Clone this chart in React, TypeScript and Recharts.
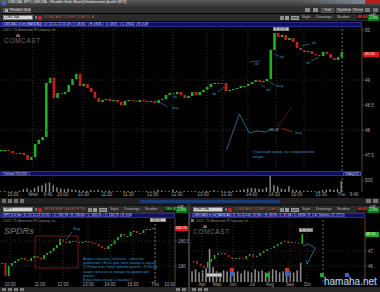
import React from 'react';
import {
  ComposedChart,
  Bar,
  XAxis,
  YAxis,
  ReferenceLine,
  ReferenceDot,
  ReferenceArea,
} from 'recharts';

// ---- main panel: CMCSA 2 d 1m, closes read off the picture ----
const mainClose = [
  47.6, 47.6, 47.58, 47.54, 47.52, 47.54, 47.5, 47.4, 47.46, 47.72,
  47.8, 47.86, 48.94, 49.04, 48.64, 48.74, 48.72, 48.76, 48.9, 49.02,
  49.12, 48.88, 48.92, 48.84, 48.76, 48.64, 48.56, 48.6, 48.62, 48.58,
  48.6, 48.56, 48.5, 48.58, 48.6, 48.58, 48.56, 48.6, 48.58, 48.56,
  48.58, 48.54, 48.6, 48.62, 48.7, 48.74, 48.72, 48.76, 48.7, 48.64,
  48.68, 48.76, 48.7, 48.76, 48.8, 48.86, 48.92, 48.94, 48.92, 48.94,
  48.78, 48.8, 48.82, 48.84, 48.88, 48.88, 48.92, 48.96, 49.0, 48.96,
  48.98, 49.02, 49.6, 49.94, 49.86, 49.9, 49.8, 49.84, 49.76, 49.64,
  49.6, 49.56, 49.58, 49.52, 49.5, 49.48, 49.56, 49.52, 49.44, 49.4,
  49.46, 49.56,
];
// volume, thousands
const mainVolume = [
  30, 40, 20, 30, 25, 60, 120, 150, 80,
  180, 250, 300, 380,
  420, 300, 200, 150,
  120, 150, 100, 90,
  70, 60, 50, 80, 60, 100, 50, 40, 60, 30,
  40, 30, 50, 40, 30, 40, 30, 20, 40, 30,
  40, 100, 60, 30, 40, 110, 50, 30, 40, 30,
  30, 40, 20, 30, 50, 40, 80, 30, 40, 30,
  40, 50, 60, 80, 120, 150, 180, 160, 140, 120,
  200, 700, 300, 250, 150,
  120, 250, 100, 80, 60,
  50, 60, 40, 30, 50, 80, 100, 120, 90, 130, 480,
];
const mainTimeTicks = [3.2, 8.5, 12.5, 16.5, 22, 28.3, 34, 40.5, 47, 54, 60.3, 67, 73, 79, 85.6, 91, 94.4];
const mainTimeLabels = ['15:00', 'Wed', '9:40', '10:00', '10:30', '11:00', '11:30', '12:00', '12:30', '13:00', '13:30', '14:00', '14:30', '15:00', '15:30', 'Thu', '9:40'];
const mainPriceTicks = [47.5, 48, 48.5, 49, 50];
const mainGridX = [8.4, 14, 22, 30, 38, 46, 55, 59.2, 66, 73.6, 81];

// ---- bottom left: SPY 5 D 5m ----
const spyClose = [
  180.06, 179.8, 180.0, 180.06, 180.1, 180.14, 180.16, 180.12, 180.1, 180.16,
  180.2, 180.16, 180.14, 180.22, 180.26, 180.3, 180.36, 180.42, 180.54, 180.48,
  180.46, 180.5, 180.5, 180.48, 180.46, 180.48, 180.5, 180.48, 180.46, 180.44,
  180.4, 180.36, 180.34, 180.4, 180.44, 180.52, 180.58, 180.64, 180.6, 180.6,
  180.68, 180.7, 180.66, 180.66, 180.72, 180.74, 180.74, 180.76,
];
const spyTimeTicks = [2.5, 11.8, 19, 26.8, 33.6, 40.8, 47.7, 52.3];
const spyTimeLabels = ['10:00', '11:00', '12:00', '13:00', '14:00', '15:00', 'Thu', '10:00'];
const spyPriceTicks = [180, 180.5];

// ---- bottom right: CMCSA 6 m 1d ----
const cmDailyClose = [
  46.33, 46.13, 46.0, 45.87, 46.27, 46.47, 46.73, 46.87, 46.87, 46.73,
  46.6, 46.47, 46.53, 46.53, 46.47, 46.67, 46.8, 46.6, 46.67, 46.87,
  47.0, 47.13, 47.2, 47.33, 47.47, 47.6, 47.67, 47.53, 47.6, 47.53,
  47.47, 48.13,
];
const cmDailyVolume = [
  10, 12, 9, 11, 13, 31, 14, 10, 9, 11, 10, 12, 9, 10, 8, 11,
  10, 9, 12, 10, 11, 9, 10, 12, 11, 9, 10, 12, 10, 9, 11, 18,
];
const cmTimeTicks = [2.6, 6.9, 11.4, 16.9, 22, 27.7, 32.6];
const cmTimeLabels = ['Apr', 'May', 'Jun', 'Jul', 'Aug', 'Sep', 'Oct'];
const cmPriceTicks = [46, 47];

const FONT = '"Liberation Sans", Arial, sans-serif';
const UP = '#19b419';
const DOWN = '#c81e1e';
const NOTE = '#2d8fc4';
const AXIS_TXT = '#a8a8a8';
const AXIS_LINE = '#5a4628';

function toCandles(close: number[], volume?: number[]) {
  return close.map((c, i) => {
    const o = i === 0 ? c : close[i - 1];
    return { i, body: [Math.min(o, c), Math.max(o, c)], up: c >= o, vol: volume ? volume[i] : 0 };
  });
}

const mainData = toCandles(mainClose, mainVolume);
const spyData = toCandles(spyClose);
const cmData = toCandles(cmDailyClose, cmDailyVolume);

function Candle(props: any) {
  const { x, y, width, height, payload } = props;
  const top = height < 0 ? y + height : y;
  const h = Math.max(1, Math.abs(height));
  return <rect x={x} y={top} width={width} height={h} fill={payload.up ? UP : DOWN} />;
}

function VolBar(props: any) {
  const { x, y, width, height } = props;
  return <rect x={x} y={y} width={width} height={Math.max(0, height)} fill="#8c8c8c" />;
}

const tickStyle = { fill: AXIS_TXT, fontSize: 4.5, fontFamily: FONT };

function Txt({ x, y, s = 4.5, c = '#c8c8c8', bold, children, style }: any) {
  return (
    <div
      style={{
        position: 'absolute',
        left: x,
        top: y,
        fontSize: s,
        lineHeight: 1,
        color: c,
        whiteSpace: 'nowrap',
        fontWeight: bold ? 700 : 400,
        fontFamily: FONT,
        ...style,
      }}
    >
      {children}
    </div>
  );
}

function Box({ x, y, w, h, bg, border, style, children }: any) {
  return (
    <div
      style={{
        position: 'absolute',
        left: x,
        top: y,
        width: w,
        height: h,
        background: bg,
        border: border ? `1px solid ${border}` : undefined,
        boxSizing: 'border-box',
        ...style,
      }}
    >
      {children}
    </div>
  );
}

// symbol toolbar row (input, description, style/drawings/studies, price)
function Toolbar({ x, y, symbol, desc, price, priceColor, w }: any) {
  const r = x + w;
  return (
    <>
      <Box x={x} y={y} w={w} h={7} bg="#2a2a2a" />
      <Box x={x + 3} y={y + 1} w={30} h={5} bg="#d4d4d4" border="#777">
        <Txt x={1} y={0.4} s={3.8} c="#222">{symbol}</Txt>
      </Box>
      <Box x={x + 35} y={y + 2} w={2} h={3} bg="#5a7ab0" />
      <Box x={x + 38} y={y + 1.5} w={4} h={4} bg="#c02020" />
      <Txt x={x + 44} y={y + 1.8} s={3.8} c="#d8583a">{desc}</Txt>
      <Box x={r - 100} y={y + 1.5} w={4} h={4} bg="#8a8a8a" />
      <Box x={r - 95} y={y + 1.5} w={4} h={4} bg="#9a9a9a" />
      <Box x={r - 89} y={y + 1.5} w={8} h={4} bg="#6c6c6c" border="#999" />
      <Txt x={r - 78} y={y + 1.8} s={3.8} c="#bbb">Style</Txt>
      <Txt x={r - 64} y={y + 1.8} s={3.8} c="#bbb">Drawings</Txt>
      <Txt x={r - 43} y={y + 1.8} s={3.8} c="#bbb">Studies</Txt>
      <Box x={r - 23} y={y + 1} w={10} h={5} bg="#151515">
        <Txt x={0.5} y={0.6} s={3.8} c={priceColor} bold>{price}</Txt>
      </Box>
      <Box x={r - 12} y={y + 0.5} w={11} h={6} bg="#0d7a1a">
        <Txt x={1} y={0.3} s={2.6} c="#e8ffe8">+0.37</Txt>
        <Txt x={1} y={3} s={2.6} c="#e8ffe8">+0.76%</Txt>
      </Box>
    </>
  );
}

function InfoBar({ x, y, w, cells }: any) {
  let cx = x + 2;
  return (
    <>
      <Box x={x} y={y} w={w} h={5} bg="#0e0e62" border="#2c2c8a" />
      {cells.map((c: any, k: number) => {
        const left = cx;
        cx += c.w + 1;
        return (
          <Box key={k} x={left} y={y + 0.5} w={c.w} h={4} border="#4040a8" style={{ background: k === 0 ? '#16168a' : 'transparent' }}>
            <Txt x={0.8} y={0.3} s={3.2} c="#d0dcff">{c.t}</Txt>
          </Box>
        );
      })}
    </>
  );
}

export default function App() {
  const mainFmt = (v: number) => mainTimeLabels[mainTimeTicks.indexOf(v)] ?? '';
  const spyFmt = (v: number) => spyTimeLabels[spyTimeTicks.indexOf(v)] ?? '';
  const cmFmt = (v: number) => cmTimeLabels[cmTimeTicks.indexOf(v)] ?? '';

  const noteLabel = (t: string, c = NOTE) => ({ value: t, fill: c, fontSize: 4, fontFamily: FONT, position: 'center' as const });

  return (
    <div style={{ position: 'absolute', left: 0, top: 0, width: 380, height: 292, background: '#000', overflow: 'hidden', fontFamily: FONT }}>
      {/* title bar */}
      <Box x={0} y={0} w={380} h={7} style={{ background: 'linear-gradient(#5c5c5c, #343434)' }} />
      <Box x={300} y={0} w={65} h={4} style={{ background: 'linear-gradient(90deg, rgba(120,140,160,0), rgba(150,170,190,0.6))' }} />
      <Box x={366} y={0} w={14} h={4} bg="#b82020" />
      <Box x={2} y={1} w={4} h={4} bg="#3b6ac0" />
      <Txt x={8} y={1.3} s={3.8} c="#e8e8e8">CMCSA, SPY, CMCSA - Flexible Grid, Main@thinkorswim [build 1872]</Txt>

      {/* grid button row */}
      <Box x={0} y={7} w={380} h={6} bg="#313131" />
      <Box x={3} y={7.5} w={28} h={5} bg="#454545" border="#5c5c5c" />
      <Box x={5} y={8.5} w={3} h={3} bg="#8ab0d8" />
      <Txt x={10} y={8.6} s={3.6} c="#ddd">Flexible Grid</Txt>
      <Box x={305} y={8} w={5} h={4} bg="#888" />
      <Box x={313} y={8} w={5} h={4} bg="#888" />
      <Box x={321} y={7.5} w={13} h={5} bg="#454545" border="#5c5c5c" />
      <Txt x={324} y={8.6} s={3.6} c="#ddd">Grid</Txt>
      <Box x={336} y={7.5} w={15} h={5} bg="#454545" border="#5c5c5c" />
      <Txt x={337.5} y={8.6} s={3.6} c="#ddd">Symbols</Txt>
      <Box x={352} y={7.5} w={11} h={5} bg="#454545" border="#5c5c5c" />
      <Txt x={353.5} y={8.6} s={3.6} c="#ddd">Reset</Txt>
      <Box x={365} y={8} w={5} h={4} bg="#777" />
      <Box x={373} y={8} w={5} h={4} bg="#777" />

      {/* main window chrome */}
      <Toolbar x={0} y={14} w={380} symbol="CMCSA" desc="COMCAST CORP COM CL A" price="48.82" priceColor="#ff3030" />
      <InfoBar
        x={0}
        y={21.5}
        w={362}
        cells={[
          { w: 40, t: 'CMCSA 2 d 1m [NASDAQ]' },
          { w: 27, t: 'D: 10-11-13 15:59' },
          { w: 16, t: 'O: 48.82' },
          { w: 16, t: 'H: 48.85' },
          { w: 14, t: 'L: 48.8' },
          { w: 15, t: 'C: 48.82' },
          { w: 12, t: 'R: 0.09' },
        ]}
      />

      {/* main price chart */}
      <div style={{ position: 'absolute', left: 0, top: 27 }}>
        <ComposedChart width={380} height={144} data={mainData} margin={{ top: 0, right: 0, bottom: 0, left: 0 }}>
          <XAxis type="number" dataKey="i" domain={[-0.27, 96.5]} allowDataOverflow hide />
          <YAxis
            orientation="right"
            width={18}
            domain={[47.18, 50.06]}
            allowDataOverflow
            ticks={mainPriceTicks}
            tick={tickStyle}
            tickSize={2}
            tickMargin={1}
            axisLine={{ stroke: AXIS_LINE }}
            tickLine={{ stroke: AXIS_LINE }}
          />
          {[48, 49, 50].map((p) => (
            <ReferenceLine key={p} y={p} stroke="#2e2e2e" strokeDasharray="1 2" />
          ))}
          {mainGridX.map((g) => (
            <ReferenceLine key={g} x={g} stroke="#2e2e2e" strokeDasharray="1 2" />
          ))}
          <ReferenceLine x={91.2} stroke="#6a6a6a" strokeDasharray="2 2" />
          <Bar dataKey="body" barSize={2.6} shape={Candle} isAnimationActive={false} />

          {/* blue trade notes */}
          <ReferenceLine segment={[{ x: 42.4, y: 48.56 }, { x: 44.5, y: 48.46 }]} stroke={NOTE} strokeWidth={0.6} />
          <ReferenceDot x={46.6} y={48.44} r={0} label={noteLabel('buy')} />
          <ReferenceDot x={46.4} y={48.66} r={0} label={noteLabel('sb')} />
          <ReferenceLine segment={[{ x: 57.9, y: 48.76 }, { x: 59.7, y: 48.86 }]} stroke={NOTE} strokeWidth={0.6} />
          <ReferenceDot x={57} y={48.72} r={0} label={noteLabel('sb')} />
          <ReferenceLine segment={[{ x: 66.4, y: 49.36 }, { x: 69.4, y: 49.38 }]} stroke={NOTE} strokeWidth={0.6} />
          <ReferenceDot x={68.3} y={49.32} r={0} label={noteLabel('sb')} />
          <ReferenceLine segment={[{ x: 69.1, y: 48.94 }, { x: 70.7, y: 48.84 }]} stroke={NOTE} strokeWidth={0.6} />
          <ReferenceDot x={71.4} y={48.8} r={0} label={noteLabel('sb')} />
          <ReferenceLine segment={[{ x: 71.7, y: 48.96 }, { x: 73.3, y: 48.9 }]} stroke={NOTE} strokeWidth={0.6} />
          <ReferenceDot x={74.6} y={48.88} r={0} label={noteLabel('buy')} />
          <ReferenceLine segment={[{ x: 73, y: 49.52 }, { x: 74.3, y: 49.48 }]} stroke={NOTE} strokeWidth={0.6} />
          <ReferenceDot x={75} y={49.46} r={0} label={noteLabel('sb')} />
          <ReferenceLine segment={[{ x: 80.3, y: 49.68 }, { x: 82.5, y: 49.72 }]} stroke={NOTE} strokeWidth={0.6} />
          <ReferenceDot x={83.6} y={49.74} r={0} label={noteLabel('sb')} />
          <ReferenceLine segment={[{ x: 82.9, y: 49.38 }, { x: 85, y: 49.46 }]} stroke={NOTE} strokeWidth={0.6} />
          <ReferenceDot x={82} y={49.34} r={0} label={noteLabel('sb')} />

          {/* hand drawn entry sketch */}
          <ReferenceLine segment={[{ x: 60.3, y: 47.6 }, { x: 63.7, y: 48.32 }]} stroke={NOTE} strokeWidth={0.7} />
          <ReferenceLine segment={[{ x: 63.7, y: 48.32 }, { x: 66.4, y: 47.94 }]} stroke={NOTE} strokeWidth={0.7} />
          <ReferenceLine segment={[{ x: 66.4, y: 47.94 }, { x: 68.5, y: 47.98 }]} stroke={NOTE} strokeWidth={0.7} />
          <ReferenceLine segment={[{ x: 68.5, y: 47.98 }, { x: 70.9, y: 47.96 }]} stroke={NOTE} strokeWidth={0.7} />
          <ReferenceLine segment={[{ x: 70.9, y: 47.96 }, { x: 71.7, y: 48.0 }]} stroke={NOTE} strokeWidth={0.7} />
          <ReferenceDot x={73} y={48.0} r={0} label={noteLabel('48.02', '#9ab8d0')} />
          <ReferenceLine segment={[{ x: 73.9, y: 48.06 }, { x: 77.6, y: 48.44 }]} stroke="#c02828" strokeWidth={0.7} strokeDasharray="2 1" />
          <ReferenceLine segment={[{ x: 74.9, y: 48.04 }, { x: 77.9, y: 47.96 }]} stroke="#c02828" strokeWidth={0.7} />
          <ReferenceDot x={79.6} y={47.95} r={0} label={noteLabel('buy')} />
          <ReferenceDot x={65.9} y={47.56} r={0} label={{ value: 'Обычный заход, по направлению', fill: NOTE, fontSize: 4, fontFamily: FONT, position: 'right' }} />
          <ReferenceDot x={65.9} y={47.46} r={0} label={{ value: 'акции .', fill: NOTE, fontSize: 4, fontFamily: FONT, position: 'right' }} />
        </ComposedChart>
      </div>
      <Txt x={3} y={29} s={3} c="#8a8a8a">2013 © TD Ameritrade IP Company, Inc.</Txt>
      <Box x={16} y={34} w={4} h={3} style={{ borderRadius: '2px 2px 0 0', background: '#6a6a6a' }} />
      <Txt x={4} y={38} s={6.5} c="#6e6e6e" style={{ letterSpacing: 0.6 }}>COMCAST</Txt>
      <Box x={273} y={27} w={16} h={4} bg="#d0d0d0" border="#888">
        <Txt x={1} y={0.4} s={3} c="#222">H: 49.98</Txt>
      </Box>
      <Box x={363} y={52} w={16} h={5} bg="#e01818">
        <Txt x={2} y={0.7} s={3.8} c="#fff">49.56</Txt>
      </Box>

      {/* volume header */}
      <Box x={0} y={171} w={362} h={5} bg="#0e0e62" border="#2c2c8a" />
      <Box x={2} y={171.5} w={28} h={4} border="#4040a8">
        <Txt x={1} y={0.3} s={3.2} c="#d0dcff">Volume  525,650</Txt>
      </Box>
      <Box x={343} y={171.5} w={18} h={4} border="#4040a8">
        <Txt x={1} y={0.3} s={2.8} c="#d0dcff">VolAvg(50)</Txt>
      </Box>

      {/* volume panel + time axis */}
      <div style={{ position: 'absolute', left: 0, top: 176 }}>
        <ComposedChart width={380} height={22} data={mainData} margin={{ top: 0, right: 0, bottom: 0, left: 0 }}>
          <XAxis
            type="number"
            dataKey="i"
            domain={[-0.27, 96.5]}
            allowDataOverflow
            ticks={mainTimeTicks}
            tickFormatter={mainFmt}
            tick={tickStyle}
            height={6}
            tickSize={0}
            tickMargin={1}
            axisLine={false}
            interval={0}
          />
          <YAxis
            orientation="right"
            width={18}
            domain={[0, 700]}
            ticks={[250, 500]}
            tick={tickStyle}
            tickSize={2}
            tickMargin={1}
            axisLine={{ stroke: AXIS_LINE }}
            tickLine={{ stroke: AXIS_LINE }}
          />
          <ReferenceLine x={91.2} stroke="#6a6a6a" strokeDasharray="2 2" />
          <Bar dataKey="vol" barSize={1.4} shape={VolBar} isAnimationActive={false} />
        </ComposedChart>
      </div>

      {/* main window footer: icons + scrollbar */}
      <Box x={0} y={198} w={380} h={6} bg="#202020" />
      <Box x={2} y={199} w={4} h={4} bg="#707070" />
      <Box x={8} y={199} w={4} h={4} bg="#707070" />
      <Box x={14} y={199} w={4} h={4} bg="#707070" />
      <Box x={20} y={199} w={4} h={4} bg="#707070" />
      <Box x={140} y={199.5} w={140} h={3} bg="#1c3a78" />
      <Box x={366} y={199} w={5} h={4} bg="#707070" />
      <Box x={373} y={199} w={5} h={4} bg="#707070" />

      {/* ---------- bottom left window: SPY ---------- */}
      <Box x={0} y={204} w={380} h={2} bg="#151515" />
      <Box x={188} y={204} w={2} h={88} bg="#3a3a3a" />
      <Toolbar x={0} y={206} w={188} symbol="SPY" desc="SPDR S&P 500 ETF TR" price="180.81" priceColor="#2ee82e" />
      <InfoBar
        x={0}
        y={212.5}
        w={175}
        cells={[
          { w: 19, t: 'SPY 5 D 5m' },
          { w: 29, t: 'D: 10-11-13 15:55' },
          { w: 16, t: 'O: 180.78' },
          { w: 16, t: 'H: 180.82' },
          { w: 16, t: 'L: 180.75' },
          { w: 16, t: 'C: 180.79' },
          { w: 11, t: 'R: 0.07' },
        ]}
      />
      <div style={{ position: 'absolute', left: 0, top: 217.5 }}>
        <ComposedChart width={188} height={69} data={spyData} margin={{ top: 0, right: 0, bottom: 0, left: 0 }}>
          <XAxis
            type="number"
            dataKey="i"
            domain={[-0.62, 53.9]}
            allowDataOverflow
            ticks={spyTimeTicks}
            tickFormatter={spyFmt}
            tick={tickStyle}
            height={5}
            tickSize={0}
            tickMargin={1}
            axisLine={false}
            interval={0}
          />
          <YAxis
            orientation="right"
            width={13}
            domain={[179.68, 180.96]}
            allowDataOverflow
            ticks={spyPriceTicks}
            tick={tickStyle}
            tickSize={2}
            tickMargin={1}
            axisLine={{ stroke: AXIS_LINE }}
            tickLine={{ stroke: AXIS_LINE }}
          />
          {spyTimeTicks.map((t) => (
            <ReferenceLine key={t} x={t} stroke="#2e2e2e" strokeDasharray="1 2" />
          ))}
          <ReferenceLine y={180.5} stroke="#2e2e2e" strokeDasharray="1 2" />
          <ReferenceLine y={180} stroke="#2e2e2e" strokeDasharray="1 2" />
          <ReferenceLine x={47.7} stroke="#6a6a6a" strokeDasharray="2 2" />
          <ReferenceArea x1={10.3} x2={23.7} y1={179.96} y2={180.6} fill="none" stroke="#8a1c1c" strokeWidth={0.8} />
          <Bar dataKey="body" barSize={1.8} shape={Candle} isAnimationActive={false} />
          <ReferenceLine segment={[{ x: 21.8, y: 180.68 }, { x: 19.9, y: 180.52 }]} stroke={NOTE} strokeWidth={0.6} />
          <ReferenceDot x={23.3} y={180.75} r={0} label={noteLabel('Buy')} />
        </ComposedChart>
      </div>
      <Txt x={3} y={220} s={3} c="#8a8a8a">2013 © TD Ameritrade IP Company, Inc.</Txt>
      <Txt x={4} y={227} s={9} c="#5a5a5a" bold style={{ fontStyle: 'italic' }}>SPDRs</Txt>
      <Box x={150} y={218} w={16} h={4} bg="#d0d0d0" border="#888">
        <Txt x={1} y={0.4} s={3} c="#222">180.80</Txt>
      </Box>
      <Box x={175} y={226} w={13} h={5} bg="#e01818">
        <Txt x={0.8} y={0.7} s={3.6} c="#fff">180.76</Txt>
      </Box>
      <div
        style={{
          position: 'absolute',
          left: 83,
          top: 257,
          width: 78,
          fontSize: 3.8,
          lineHeight: '4.2px',
          color: NOTE,
          fontFamily: FONT,
        }}
      >
        Акция сильная ( обычно - сильное движение ) Есть два типа захода в акцию - 1) Когда она стоит против рынка . 2) Когда акция сильная и заходи по движению рынка .
        <br />В данном случае 2 вариант.
      </div>
      <Box x={0} y={286.5} w={188} h={5.5} bg="#262626" />
      <Box x={2} y={287.5} w={4} h={3.5} bg="#777" />
      <Box x={8} y={287.5} w={4} h={3.5} bg="#777" />
      <Box x={14} y={287.5} w={4} h={3.5} bg="#777" />
      <Box x={20} y={287.5} w={4} h={3.5} bg="#777" />
      <Box x={176} y={287.5} w={4} h={3.5} bg="#777" />
      <Box x={182} y={287.5} w={4} h={3.5} bg="#777" />

      {/* ---------- bottom right window: CMCSA daily ---------- */}
      <Toolbar x={190} y={206} w={190} symbol="CMCSA" desc="COMCAST CORP COM CL A" price="48.82" priceColor="#ff3030" />
      <InfoBar
        x={190}
        y={212.5}
        w={175}
        cells={[
          { w: 38, t: 'CMCSA 6 m 1d [NASDAQ]' },
          { w: 15, t: 'D: 10-11-13' },
          { w: 15, t: 'O: 47.60' },
          { w: 14, t: 'H: 48.95' },
          { w: 13, t: 'L: 47.48' },
          { w: 13, t: 'C: 48.82' },
          { w: 10, t: 'R: 1.47' },
          { w: 28, t: 'Volume: 27,777,3' },
        ]}
      />
      <div style={{ position: 'absolute', left: 190, top: 217.5 }}>
        <ComposedChart width={190} height={69} data={cmData} margin={{ top: 0, right: 0, bottom: 0, left: 0 }}>
          <XAxis
            type="number"
            dataKey="i"
            domain={[-0.86, 49.1]}
            allowDataOverflow
            ticks={cmTimeTicks}
            tickFormatter={cmFmt}
            tick={tickStyle}
            height={5}
            tickSize={0}
            tickMargin={1}
            axisLine={false}
            interval={0}
          />
          <YAxis
            yAxisId="p"
            orientation="right"
            width={15}
            domain={[44.93, 49.2]}
            allowDataOverflow
            ticks={cmPriceTicks}
            tick={tickStyle}
            tickSize={2}
            tickMargin={1}
            axisLine={{ stroke: AXIS_LINE }}
            tickLine={{ stroke: AXIS_LINE }}
          />
          <YAxis yAxisId="v" hide domain={[0, 60]} />
          {cmTimeTicks.map((t) => (
            <ReferenceLine key={t} yAxisId="p" x={t} stroke="#2e2e2e" strokeDasharray="1 2" />
          ))}
          <ReferenceLine yAxisId="p" y={47} stroke="#2e2e2e" strokeDasharray="1 2" />
          <ReferenceLine yAxisId="p" y={46} stroke="#2e2e2e" strokeDasharray="1 2" />
          <ReferenceLine yAxisId="p" x={37.1} stroke="#7a5a2a" strokeDasharray="2 2" />
          <Bar yAxisId="v" dataKey="vol" barSize={3.5} shape={VolBar} isAnimationActive={false} />
          <Bar yAxisId="p" dataKey="body" barSize={2} shape={Candle} isAnimationActive={false} />
          <ReferenceLine yAxisId="p" segment={[{ x: 31.4, y: 47.33 }, { x: 32.9, y: 47.47 }]} stroke={NOTE} strokeWidth={0.7} />
          <ReferenceLine yAxisId="p" segment={[{ x: 32.9, y: 47.47 }, { x: 34.9, y: 47.2 }]} stroke={NOTE} strokeWidth={0.7} />
          <ReferenceLine yAxisId="p" segment={[{ x: 34.9, y: 47.2 }, { x: 32.6, y: 46.13 }]} stroke={NOTE} strokeWidth={0.7} />
          <ReferenceLine yAxisId="p" segment={[{ x: 32.6, y: 46.13 }, { x: 32.3, y: 46.4 }]} stroke={NOTE} strokeWidth={0.7} />
        </ComposedChart>
      </div>
      <Box x={191} y={219} w={3} h={3} bg="#3a9a3a" />
      <Txt x={196} y={219.5} s={3} c="#8a8a8a">2013 © TD Ameritrade IP Company, Inc.</Txt>
      <Box x={203} y={225} w={4} h={3} style={{ borderRadius: '2px 2px 0 0', background: '#6a6a6a' }} />
      <Txt x={193} y={229} s={6.5} c="#6e6e6e" style={{ letterSpacing: 0.6 }}>COMCAST</Txt>
      <Box x={299} y={228} w={14} h={4} bg="#d0d0d0" border="#888">
        <Txt x={1} y={0.4} s={3} c="#222">H: 48.95</Txt>
      </Box>
      <Box x={365} y={232} w={14} h={5} bg="#1aa82a">
        <Txt x={1.3} y={0.7} s={3.6} c="#fff">48.13</Txt>
      </Box>
      {/* event markers */}
      <Box x={206} y={273} w={16} h={4} bg="#c8c8c8" border="#888" />
      <Box x={230} y={268} w={4} h={3.5} bg="#d03030" />
      <Box x={230} y={272} w={4} h={3.5} bg="#2a6ad8" />
      <Box x={266} y={273} w={4} h={3.5} bg="#1aa82a" />
      <Box x={285} y={268} w={4} h={3.5} bg="#d03030" />
      <Box x={285} y={272} w={4} h={3.5} bg="#2a6ad8" />
      <Box x={320} y={273} w={4} h={3.5} bg="#1aa82a" />
      <Box x={345} y={273} w={4} h={3.5} bg="#2a6ad8" />
      <Box x={190} y={286.5} w={190} h={5.5} bg="#262626" />
      <Box x={192} y={287.5} w={4} h={3.5} bg="#777" />
      <Box x={198} y={287.5} w={4} h={3.5} bg="#777" />
      <Box x={204} y={287.5} w={4} h={3.5} bg="#777" />

      <Txt x={324} y={277} s={10} c="#a9c9e6" style={{ textShadow: '0 0 1px #3a5a7a' }}>hamaha.net</Txt>
    </div>
  );
}
